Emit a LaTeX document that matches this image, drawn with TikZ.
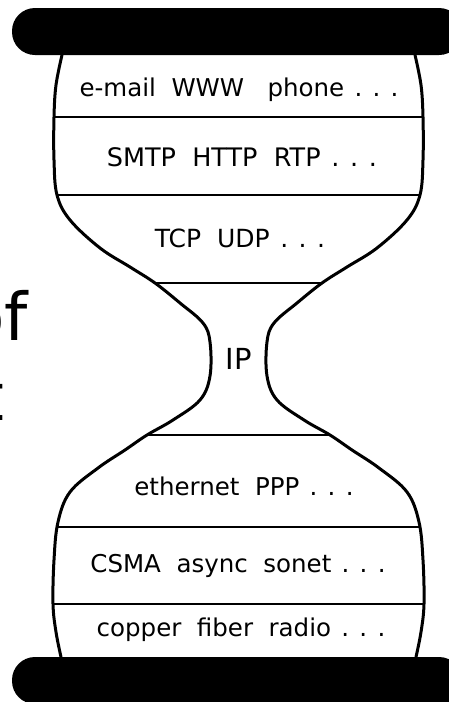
\documentclass[tikz,border=0pt]{standalone}
\usepackage{fontspec}
\setmainfont{DejaVu Sans}
\usepackage{tikz}

\newcommand{\moredots}{\hspace{.42em}.\hspace{.42em}.\hspace{.42em}.}

\tikzset{
    layer/.style={inner sep=0pt, font=\fontsize{24.5}{28}\selectfont},
    rim/.style={line width=3pt, line join=round, line cap=round},
    divider/.style={line width=2.7pt}
}

\begin{document}
\begin{tikzpicture}[x=1pt, y=-1pt]
        \useasboundingbox (0,0) rectangle (448,702);

        % Title text behind
        \node[inner sep=0pt, anchor=base east, font=\fontsize{66}{80}\selectfont] (titleA) at (28,340) {of};
        \node[inner sep=0pt, anchor=base east, font=\fontsize{66}{80}\selectfont] (titleB) at (5,420) {t};

        % Bars
        \fill[rounded corners=23pt] (12,8) rectangle (462,55);
        \fill[rounded corners=23pt] (12,657) rectangle (462,704);

        % Outline
        \foreach \side in {0,1} {
            \begin{scope}[shift={(477*\side,0)}, xscale={1-2*\side}]
                \draw[rim] plot[smooth, tension=0.6] coordinates {
                    (62,55) (56,85) (54,117) (54,160) (57,195) (70,220)
                    (100,248) (130,267) (155,283) (180,303) (203,323)
                    (210,342) (210,376) (200,400) (173,420) (147,435)
                    (125,450) (98,468) (70,492) (58,522) (54,560)
                    (53,604) (56,632) (61,657)};
            \end{scope}
        }

        % Dividers
        \foreach \y/\x in {117/54, 195/57, 283/155, 435/147, 527/58, 604/53} {
            \draw[divider] (\x,\y) -- ({477-\x},\y);
        }

        % Labels
        \node[layer] (apps) at (239,90) {e-mail~~WWW~~~phone\moredots};
        \node[layer, font=\fontsize{25.5}{29}\selectfont] (appproto) at (242,157) {SMTP~~HTTP~~RTP\moredots};
        \node[layer, font=\fontsize{25}{29}\selectfont] (transport) at (240,238) {TCP~~UDP\moredots};
        \node[layer, font=\fontsize{29}{32}\selectfont] (ip) at (239,359) {IP};
        \node[layer] (link) at (244,486) {ethernet~~PPP\moredots};
        \node[layer] (mac) at (238,566) {CSMA~~async~~sonet\moredots};
        \node[layer] (phys) at (241,630) {copper~~fiber~~radio\moredots};
\end{tikzpicture}
\end{document}
